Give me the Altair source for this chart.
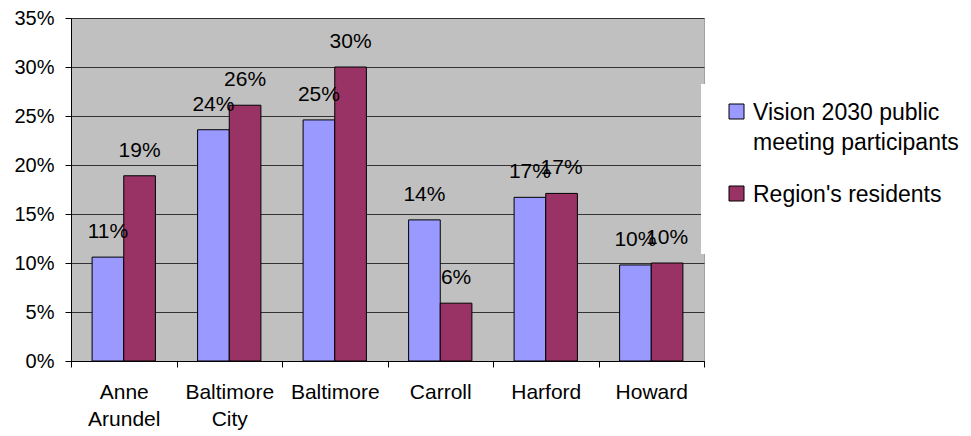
import altair as alt
import pandas as pd

# County shares (%), one value per bar
counties = ["Anne Arundel", "Baltimore City", "Baltimore", "Carroll", "Harford", "Howard"]
participants = [10.6, 23.6, 24.6, 14.4, 16.7, 9.8]
residents = [18.9, 26.1, 30.0, 5.9, 17.1, 10.0]
series_names = ["Vision 2030 public meeting participants", "Region's residents"]
series_colors = ["#9999FF", "#993366"]
y_ticks = [0, 5, 10, 15, 20, 25, 30, 35]

rows = []
for county, p, r in zip(counties, participants, residents):
    rows.append({"county": county, "series": series_names[0], "share": p})
    rows.append({"county": county, "series": series_names[1], "share": r})
df = pd.DataFrame(rows)

FONT = "Liberation Sans"
LABEL_DY = 8  # shared guide-label shift, used to align legend text with swatches

x_enc = alt.X(
    "county:N",
    sort=counties,
    scale=alt.Scale(paddingInner=0, paddingOuter=0),
    axis=alt.Axis(
        title=None,
        labelAngle=0,
        tickBand="extent",
        labelExpr="split(datum.label, ' ')",
        labelFont=FONT,
        labelFontSize=21,
        labelLineHeight=27,
        labelPadding=14 - LABEL_DY,
        labelColor="black",
        tickSize=6,
        tickColor="black",
        domainColor="black",
        grid=False,
    ),
)
xoff_enc = alt.XOffset(
    "series:N", sort=series_names, scale=alt.Scale(paddingInner=0, paddingOuter=0.667)
)
y_enc = alt.Y(
    "share:Q",
    scale=alt.Scale(domain=[0, 35], nice=False),
    axis=alt.Axis(
        title=None,
        values=y_ticks,
        labelExpr="datum.value + '%'",
        labelFont=FONT,
        labelFontSize=20,
        labelColor="black",
        labelPadding=11,
        labelOffset=-LABEL_DY,
        tickSize=6,
        tickColor="black",
        domainColor="black",
        grid=True,
        gridColor="#333333",
        gridWidth=1,
    ),
)
color_enc = alt.Color(
    "series:N",
    sort=series_names,
    scale=alt.Scale(domain=series_names, range=series_colors),
    legend=alt.Legend(
        title=None,
        orient="none",
        legendX=654,
        legendY=82,
        symbolType="square",
        symbolSize=225,
        symbolStrokeColor="black",
        symbolStrokeWidth=1,
        symbolOpacity=1,
        labelFont=FONT,
        labelFontSize=23,
        labelColor="black",
        labelLimit=400,
        labelOffset=5,
        labelBaseline="alphabetic",
        rowPadding=27,
        labelExpr=(
            "datum.label == 'Vision 2030 public meeting participants'"
            " ? ['Vision 2030 public', 'meeting participants'] : datum.label"
        ),
    ),
)

base = alt.Chart(df).encode(x=x_enc, xOffset=xoff_enc, y=y_enc)

bars = base.mark_bar(stroke="black", strokeWidth=1, opacity=1).encode(color=color_enc)

labels = base.transform_calculate(
    label="format(datum.share, '.0f') + '%'"
).mark_text(dy=-25, font=FONT, fontSize=21, color="black").encode(text="label:N")

legend_box = alt.Chart(alt.Data(values=[{}])).mark_rect(color="white").encode(
    x=alt.value(630), x2=alt.value(900), y=alt.value(66), y2=alt.value(236)
)

chart = (
    alt.layer(bars, labels, legend_box)
    .properties(
        width=633,
        height=343,
        autosize=alt.AutoSizeParams(type="none"),
        padding={"left": 71, "top": 18, "right": 267, "bottom": 75},
        background="white",
    )
    .configure(style={"guide-label": {"dy": LABEL_DY, "lineHeight": 30}})
    .configure_view(fill="#C0C0C0", stroke="#A0A0A0", strokeWidth=1)
)

chart.save("out.html", embed_options={"renderer": "svg", "actions": False})
